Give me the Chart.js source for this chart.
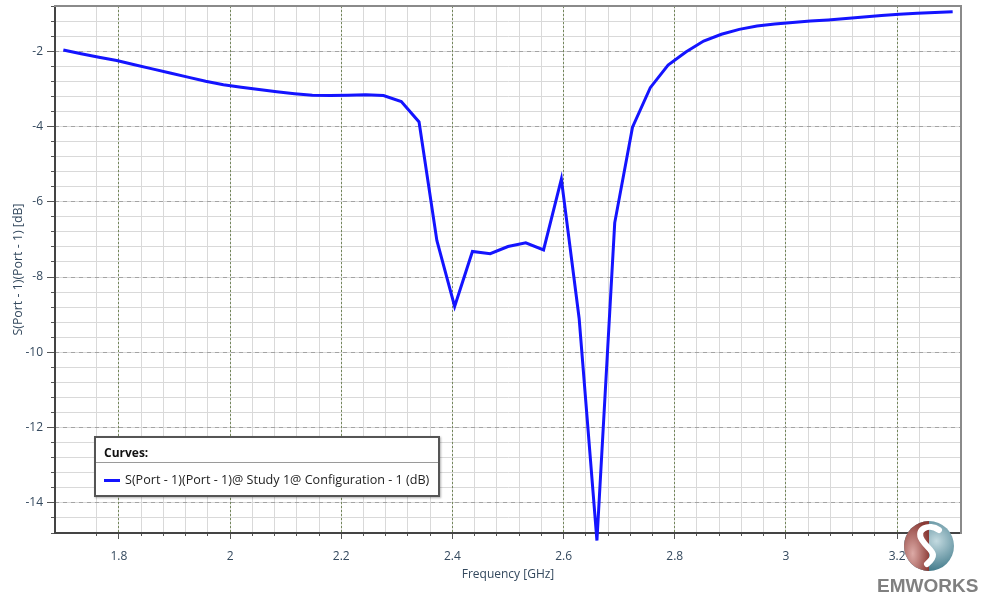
<!DOCTYPE html>
<html>
<head>
<meta charset="utf-8">
<script src="https://cdn.jsdelivr.net/npm/chart.js@4.4.1/dist/chart.umd.min.js"></script>
<style>
  html, body { margin: 0; padding: 0; background: #ffffff; }
  #wrap { position: relative; width: 981px; height: 598px; overflow: hidden; background: #ffffff; }
  #chart { position: absolute; left: 0; top: 0; }
  #legend { position: absolute; left: 94px; top: 436px; width: 342px; height: 57px;
    border: 2px solid #555; background: #fff; box-shadow: 1px 1px 2px rgba(0,0,0,0.3);
    font-family: 'Open Sans', sans-serif; font-size: 12.6px; color: #222; }
  #legend .hdr { position: absolute; left: 8px; top: 7px; line-height: 16px; font-weight: bold; color: #111; font-size: 12px; }
  #legend .sep { position: absolute; left: 0; right: 0; top: 24px; height: 1px; background: #9a9a9a; }
  #legend .item { position: absolute; left: 8px; top: 34px; line-height: 16px; display: flex; align-items: center; white-space: nowrap; }
  #legend .sw { width: 16px; height: 3px; margin-right: 5px; }
  #logo { position: absolute; left: 902px; top: 519px; }
  #brand { position: absolute; left: 877px; top: 576px; font-family: 'Liberation Sans', Arial, sans-serif;
    font-weight: bold; font-size: 19px; line-height: 1; color: #808080; }
</style>
</head>
<body>
<div id="wrap">
  <canvas id="chart" width="981" height="598"></canvas>
  <div id="legend"><div class="hdr">Curves:</div><div class="sep"></div></div>
  <svg id="logo" width="54" height="54" viewBox="0 0 54 54">
    <defs>
      <radialGradient id="gb" cx="0.65" cy="0.4" r="0.7">
        <stop offset="0" stop-color="#c3dae0"/><stop offset="1" stop-color="#2d6b7d"/>
      </radialGradient>
      <radialGradient id="gr" cx="0.35" cy="0.65" r="0.7">
        <stop offset="0" stop-color="#dcaaa6"/><stop offset="1" stop-color="#8a3a35"/>
      </radialGradient>
    </defs>
    <circle cx="27" cy="27" r="25" fill="url(#gb)"/>
    <path d="M27 2 A25 25 0 0 0 27 52 Z" fill="url(#gr)"/>
    <path d="M37 11 C 27 4, 13 10, 20 21 S 38 34, 25 45" stroke="#ffffff" stroke-width="6" fill="none" stroke-linecap="round"/>
  </svg>
  <div id="brand">EMWORKS</div>
</div>
<script>
// ---- data ----
const freqGHz = [1.700, 1.732, 1.764, 1.796, 1.828, 1.860, 1.892, 1.924, 1.956, 1.988,
                 2.020, 2.052, 2.084, 2.116, 2.148, 2.180, 2.212, 2.244, 2.276, 2.308,
                 2.340, 2.372, 2.404, 2.436, 2.468, 2.500, 2.532, 2.564, 2.596, 2.628,
                 2.660, 2.692, 2.724, 2.756, 2.788, 2.820, 2.852, 2.884, 2.916, 2.948,
                 2.980, 3.012, 3.044, 3.076, 3.108, 3.140, 3.172, 3.204, 3.236, 3.268, 3.300];
const s11dB = [-1.97, -2.07, -2.16, -2.25, -2.36, -2.47, -2.58, -2.69, -2.80, -2.89,
               -2.96, -3.02, -3.08, -3.13, -3.17, -3.18, -3.17, -3.16, -3.18, -3.34,
               -3.88, -7.03, -8.78, -7.32, -7.38, -7.19, -7.09, -7.28, -5.40, -9.10,
               -15.00, -6.56, -4.02, -2.97, -2.37, -2.02, -1.73, -1.55, -1.42, -1.33,
               -1.28, -1.24, -1.20, -1.17, -1.13, -1.09, -1.05, -1.02, -0.99, -0.97, -0.95];
const xTickValues = [1.8, 2.0, 2.2, 2.4, 2.6, 2.8, 3.0, 3.2];
const yTickValues = [-14, -12, -10, -8, -6, -4, -2];
const seriesLabel = 'S(Port - 1)(Port - 1)@ Study 1@ Configuration - 1 (dB)';
const xTitle = 'Frequency [GHz]';
const yTitle = 'S(Port - 1)(Port - 1) [dB]';
const xRange = [1.685, 3.315];
const yRange = [-14.8, -0.8];
const xMinorStep = 0.04;
const yMinorStep = 0.4;

// ---- helpers ----
function keepMultiples(step) {
  return function (scale) {
    scale.ticks = scale.ticks.filter(t => Math.abs(t.value / step - Math.round(t.value / step)) < 1e-6);
  };
}
function useTicks(values) {
  return function (scale) { scale.ticks = values.map(v => ({ value: v })); };
}
function fixBox(w, h) {
  return function (s) {
    if (w !== null) s.width = w;
    if (h !== null) s.height = h;
    s.paddingTop = 0; s.paddingBottom = 0; s.paddingLeft = 0; s.paddingRight = 0;
  };
}
const fmt = v => String(+Number(v).toFixed(3));
const axisFont = { family: "'Open Sans', sans-serif", size: 12 };
const labelColor = '#34495e';
const minorGrid = '#d9d9d9';
const tickCol = '#555555';

const points = freqGHz.map((f, i) => ({ x: f, y: s11dB[i] }));

const chart = new Chart(document.getElementById('chart'), {
  type: 'line',
  data: {
    datasets: [{
      label: seriesLabel,
      data: points,
      borderColor: '#1414ff',
      borderWidth: 3,
      pointRadius: 0,
      tension: 0,
      fill: false,
      clip: false,
      xAxisID: 'x',
      yAxisID: 'y'
    }]
  },
  options: {
    responsive: false,
    devicePixelRatio: 1,
    animation: false,
    layout: { padding: 0 },
    plugins: { legend: { display: false }, tooltip: { enabled: false } },
    scales: {
      xm: {
        type: 'linear', position: 'bottom', weight: 0,
        min: xRange[0], max: xRange[1],
        ticks: { display: false, stepSize: xMinorStep, autoSkip: false },
        grid: { color: minorGrid, lineWidth: 1, tickLength: 3, tickColor: tickCol, tickWidth: 1 },
        border: { display: true, color: '#444444', width: 2 },
        afterBuildTicks: keepMultiples(xMinorStep),
        afterFit: fixBox(null, 3)
      },
      ym: {
        type: 'linear', position: 'left', weight: 0,
        min: yRange[0], max: yRange[1],
        ticks: { display: false, stepSize: yMinorStep, autoSkip: false },
        grid: { color: minorGrid, lineWidth: 1, tickLength: 4, tickColor: tickCol, tickWidth: 1 },
        border: { display: true, color: '#444444', width: 2 },
        afterBuildTicks: keepMultiples(yMinorStep),
        afterFit: fixBox(4, null)
      },
      x: {
        type: 'linear', position: 'bottom', weight: 1,
        min: xRange[0], max: xRange[1],
        ticks: { autoSkip: false, maxRotation: 0, padding: 10,
                 color: labelColor, font: axisFont, callback: v => fmt(v) },
        grid: { color: '#73875a', lineWidth: 1, tickLength: 3, tickColor: tickCol, tickWidth: 1 },
        border: { display: false, dash: [2, 2] },
        title: { display: true, text: xTitle, color: labelColor, font: axisFont, padding: { top: 0, bottom: 16 } },
        afterBuildTicks: useTicks(xTickValues),
        afterFit: fixBox(null, 62)
      },
      y: {
        type: 'linear', position: 'left', weight: 1,
        min: yRange[0], max: yRange[1],
        ticks: { autoSkip: false, padding: 4,
                 color: labelColor, font: axisFont, callback: v => fmt(v) },
        grid: { color: '#a3a3a3', lineWidth: 1, tickLength: 4, tickColor: tickCol, tickWidth: 1 },
        border: { display: false, dash: [4, 4] },
        title: { display: true, text: yTitle, color: labelColor,
                 font: { family: "'Open Sans', sans-serif", size: 12.4 }, padding: { top: 11, bottom: 0 } },
        afterBuildTicks: useTicks(yTickValues),
        afterFit: fixBox(51, null)
      },
      xt: {
        type: 'linear', position: 'top',
        min: xRange[0], max: xRange[1],
        ticks: { display: false },
        grid: { display: false, drawTicks: false },
        border: { display: true, color: '#8a8a8a', width: 2 },
        afterFit: fixBox(null, 6)
      },
      yr: {
        type: 'linear', position: 'right',
        min: yRange[0], max: yRange[1],
        ticks: { display: false },
        grid: { display: false, drawTicks: false },
        border: { display: true, color: '#8a8a8a', width: 2 },
        afterFit: fixBox(20, null)
      }
    }
  }
});

// ---- HTML legend built from the chart's datasets ----
const legendEl = document.getElementById('legend');
chart.data.datasets.forEach(ds => {
  const item = document.createElement('div');
  item.className = 'item';
  const sw = document.createElement('span');
  sw.className = 'sw';
  sw.style.background = ds.borderColor;
  const tx = document.createElement('span');
  tx.textContent = ds.label;
  item.appendChild(sw);
  item.appendChild(tx);
  legendEl.appendChild(item);
});
</script>
</body>
</html>
